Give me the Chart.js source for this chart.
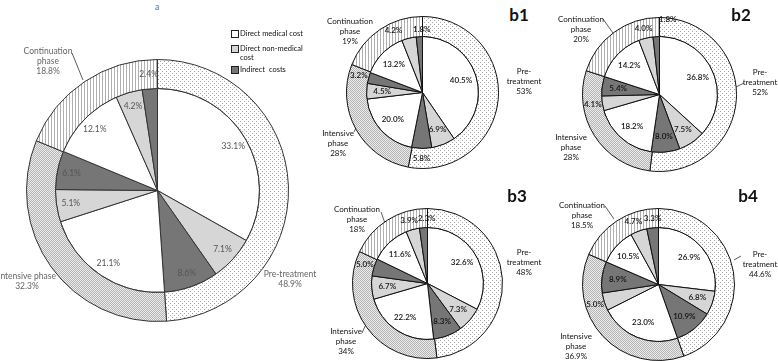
<!DOCTYPE html>
<html>
<head>
<meta charset="utf-8">
<script src="https://cdn.jsdelivr.net/npm/chart.js@4"></script>
<style>
  body { margin: 0; background: #fff; }
  #wrap { position: relative; width: 778px; height: 361px; overflow: hidden; font-family: Lato, "Open Sans", sans-serif; }
  canvas { position: absolute; }
  .lbl { position: absolute; transform: translateX(-50%); text-align: center; white-space: pre; font-size: 8px; line-height: 10px; color: #111; }
  .lbl.a { color: #666; font-size: 8.5px; }
  .ttl { position: absolute; transform: translateX(-50%); font-weight: 700; font-size: 17px; line-height: 17px; color: #111; }
  .leg { position: absolute; font-size: 7.5px; line-height: 9px; color: #111; white-space: pre; }
  .sq { position: absolute; width: 6px; height: 6px; border: 1px solid #222; }
  svg { position: absolute; left: 0; top: 0; }
</style>
</head>
<body>
<div id="wrap">
  <svg width="778" height="361">
    <g stroke="#333" stroke-width="0.8" fill="none">
      <line x1="72" y1="53" x2="83" y2="80"/>
      <line x1="149" y1="80" x2="149" y2="88"/>
      <line x1="371" y1="43" x2="364" y2="68"/>
      <line x1="354" y1="132" x2="359" y2="122"/>
      <line x1="603" y1="19" x2="613" y2="33"/>
      <line x1="744" y1="83" x2="736" y2="87"/>
      <line x1="381" y1="212" x2="386" y2="226"/>
      <line x1="362" y1="333" x2="367" y2="322"/>
      <line x1="605" y1="206" x2="614" y2="219"/>
      <line x1="741" y1="256" x2="734" y2="260"/>
    </g>
  </svg>
</div>
<script>
// phases go clockwise from the top: pre-treatment, intensive, continuation
const phaseNames = ['Pre-treatment', 'Intensive phase', 'Continuation phase'];
const costNames = ['Direct medical cost', 'Direct non-medical cost', 'Indirect  costs'];

const aPhases = [48.9, 32.3, 18.8];
const aCosts = [33.1, 7.1, 8.6, 21.1, 5.1, 6.1, 12.1, 4.2, 2.4];

const b1Phases = [53, 28, 19];
const b1Costs = [40.5, 6.9, 5.8, 20.0, 4.5, 3.2, 13.2, 4.2, 1.8];

const b2Phases = [52, 28, 20];
const b2Costs = [36.8, 7.5, 8.0, 18.2, 4.1, 5.4, 14.2, 4.0, 1.8];

const b3Phases = [48, 34, 18];
const b3Costs = [32.6, 7.3, 8.3, 22.2, 6.7, 5.0, 11.6, 3.9, 2.3];

const b4Phases = [44.6, 36.9, 18.5];
const b4Costs = [26.9, 6.8, 10.9, 23.0, 5.0, 8.9, 10.5, 4.7, 3.3];

var wrap = document.getElementById('wrap');

function makePattern(size, pixels, bg, fg) {
    var c = document.createElement('canvas');
    c.width = size; c.height = size;
    var g = c.getContext('2d');
    g.fillStyle = bg;
    g.fillRect(0, 0, size, size);
    g.fillStyle = fg;
    pixels.forEach(function (p) { g.fillRect(p[0], p[1], p[2] || 1, p[3] || 1); });
    return g.createPattern(c, 'repeat');
}

var dotted = makePattern(4, [[0, 0], [2, 2]], '#ffffff', '#a8a8a8');
var hatched = makePattern(2, [[0, 0], [1, 1]], '#ececec', '#b4b4b4');
var striped = makePattern(3, [[0, 0, 1, 3]], '#ffffff', '#b0b0b0');

var costColors = ['#ffffff', '#d6d6d6', '#767676'];

var sliceLabels = {
    id: 'sliceLabels',
    afterDatasetsDraw: function (chart, args, opts) {
        var ctx = chart.ctx;
        var ring = chart.getDatasetMeta(0).data[0];
        var arcs = chart.getDatasetMeta(1).data;
        var vals = chart.data.datasets[1].data;
        ctx.save();
        ctx.font = opts.font;
        ctx.fillStyle = opts.color;
        ctx.textAlign = 'center';
        ctx.textBaseline = 'middle';
        arcs.forEach(function (el, i) {
            var p = el.getProps(['x', 'y', 'startAngle', 'endAngle', 'outerRadius'], true);
            var mid = (p.startAngle + p.endAngle) / 2;
            var r = opts.ring.indexOf(i) >= 0 ? (p.outerRadius + ring.outerRadius) / 2 : p.outerRadius * opts.factor;
            var nudge = (opts.nudge && opts.nudge[i]) || [0, 0];
            ctx.fillText(vals[i].toFixed(1) + '%', p.x + Math.cos(mid) * r + nudge[0], p.y + Math.sin(mid) * r + nudge[1]);
        });
        ctx.restore();
    }
};

function addText(cls, text, x, y) {
    var d = document.createElement('div');
    d.className = cls;
    d.textContent = text;
    d.style.left = x + 'px';
    d.style.top = y + 'px';
    wrap.appendChild(d);
}

function drawDonut(opt) {
    var m = 8;
    var size = opt.R * 2 + 1 + m * 2;
    var cv = document.createElement('canvas');
    cv.width = size; cv.height = size;
    cv.style.left = (opt.cx - opt.R - 0.5 - m) + 'px';
    cv.style.top = (opt.cy - opt.R - 0.5 - m) + 'px';
    wrap.appendChild(cv);

    new Chart(cv.getContext('2d'), {
        type: 'doughnut',
        data: {
            labels: costNames,
            datasets: [
                {
                    data: opt.phases,
                    backgroundColor: [dotted, hatched, striped],
                    borderColor: opt.line,
                    borderWidth: 1,
                    weight: opt.R - opt.pie,
                },
                {
                    data: opt.costs,
                    backgroundColor: opt.costs.map(function (v, i) { return costColors[i % 3]; }),
                    borderColor: opt.line,
                    borderWidth: 1,
                    weight: opt.pie,
                }
            ]
        },
        options: {
            responsive: false,
            animation: false,
            cutout: 0,
            layout: {padding: m},
            plugins: {
                legend: {display: false},
                tooltip: {enabled: false},
                sliceLabels: {font: opt.font, color: opt.color, factor: opt.factor, ring: opt.ring, nudge: opt.nudge}
            }
        },
        plugins: [sliceLabels]
    });
}

// chart a
drawDonut({cx: 157, cy: 190, R: 131, pie: 102, phases: aPhases, costs: aCosts,
    line: '#333', font: '8.5px Lato', color: '#555', factor: 0.86, ring: [8]});
addText('lbl a', 'a', 157, 2);
addText('lbl a', 'Continuation\nphase\n' + aPhases[2] + '%', 48, 46);
addText('lbl a', 'Intensive phase\n' + aPhases[1] + '%', 27, 271);
addText('lbl a', 'Pre-treatment\n' + aPhases[0] + '%', 290, 269);

// legend of chart a
var legY = [29, 44, 65];
var legText = ['Direct medical cost', 'Direct non-medical\ncost', 'Indirect  costs'];
legText.forEach(function (t, i) {
    var s = document.createElement('div');
    s.className = 'sq';
    s.style.left = '231px';
    s.style.top = (legY[i] + 1) + 'px';
    s.style.background = costColors[i];
    wrap.appendChild(s);
    var d = document.createElement('div');
    d.className = 'leg';
    d.textContent = t;
    d.style.left = '240px';
    d.style.top = legY[i] + 'px';
    wrap.appendChild(d);
});

var bCharts = [
    {t: 'b1', cx: 422, cy: 92, R: 76, pie: 56, phases: b1Phases, costs: b1Costs, ring: [2, 5, 7, 8],
        nudge: {7: [-13, 2], 8: [3, 3]},
        tx: 519, ty: 6, cont: [350, 16], inten: [338, 128], pre: [524, 66]},
    {t: 'b2', cx: 659, cy: 94, R: 77, pie: 58, phases: b2Phases, costs: b2Costs, ring: [4, 7, 8],
        nudge: {8: [12, -8]},
        tx: 741, ty: 6, cont: [581, 14], inten: [571, 132], pre: [760, 67]},
    {t: 'b3', cx: 427, cy: 283, R: 75, pie: 56, phases: b3Phases, costs: b3Costs, ring: [5, 7, 8],
        nudge: {7: [-1, 0], 8: [4, 0]},
        tx: 517, ty: 187, cont: [357, 204], inten: [346, 326], pre: [524, 247]},
    {t: 'b4', cx: 658, cy: 284, R: 76, pie: 57, phases: b4Phases, costs: b4Costs, ring: [4, 7, 8],
        nudge: {7: [-2, -1], 8: [1, 0]},
        tx: 748, ty: 187, cont: [582, 200], inten: [576, 331], pre: [760, 249]}
];

bCharts.forEach(function (b) {
    drawDonut({cx: b.cx, cy: b.cy, R: b.R, pie: b.pie, phases: b.phases, costs: b.costs,
        line: '#111', font: '600 8px Lato', color: '#111', factor: 0.72, ring: b.ring, nudge: b.nudge});
    addText('ttl', b.t, b.tx, b.ty);
    addText('lbl', 'Continuation\nphase\n' + b.phases[2] + '%', b.cont[0], b.cont[1]);
    addText('lbl', 'Intensive\nphase\n' + b.phases[1] + '%', b.inten[0], b.inten[1]);
    addText('lbl', 'Pre-\ntreatment\n' + b.phases[0] + '%', b.pre[0], b.pre[1]);
});
</script>
</body>
</html>
